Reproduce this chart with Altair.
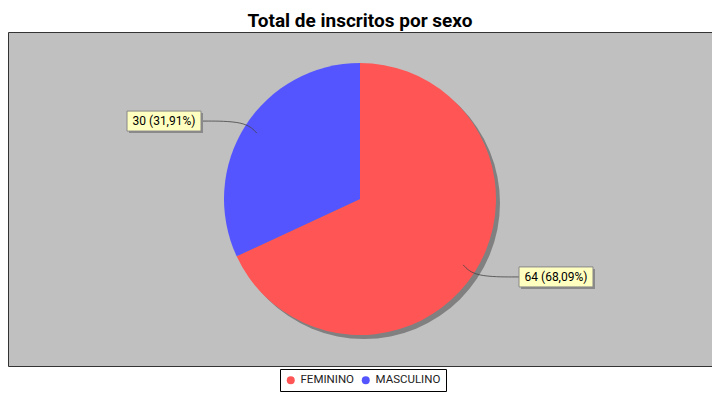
import math
import pandas as pd
import altair as alt

# ---- data ----
categories = ["FEMININO", "MASCULINO"]
values = [64, 30]
colors = ["#FF5555", "#5555FF"]
title_text = "Total de inscritos por sexo"

# ---- layout constants ----
W, H = 704, 334
CX, CY, R = 352, 167, 136
BW, BH = 74, 20

total = sum(values)
pie_df = pd.DataFrame({"cat": categories, "value": values, "idx": list(range(len(values)))})

line_rows, box_rows = [], []
cum = 0
for i, (c, v) in enumerate(zip(categories, values)):
    mid = (cum + v / 2) / total
    cum += v
    a = 2 * math.pi * mid
    dx, dy = math.sin(a), -math.cos(a)
    side = 1 if dx >= 0 else -1
    ax = CX + side * 159
    ay = CY + 1.065 * R * dy
    ex, ey = CX + 0.9 * R * dx, CY + 0.9 * R * dy
    kx = CX + R * dx
    line_rows += [
        {"slice": c, "step": 0, "x": ax, "y": ay},
        {"slice": c, "step": 1, "x": kx, "y": ay},
        {"slice": c, "step": 2, "x": ex, "y": ey},
    ]
    pct = v / total * 100
    label = f"{v} ({pct:.2f}%)".replace(".", ",")
    x1 = ax if side > 0 else ax - BW
    box_rows.append({
        "label": label, "x1": x1, "x2": x1 + BW,
        "y1": ay - BH / 2, "y2": ay + BH / 2,
        "sx1": x1 + 2, "sx2": x1 + BW + 2, "sy1": ay - BH / 2 + 2, "sy2": ay + BH / 2 + 2,
        "tx": x1 + BW / 2, "ty": ay,
    })

lines_df = pd.DataFrame(line_rows)
boxes_df = pd.DataFrame(box_rows)
shadow_df = pd.DataFrame({"s": [1]})

shadow = alt.Chart(shadow_df).mark_arc(
    radius=R, theta=0, theta2=2 * math.pi, color="#808080"
).encode(x=alt.value(CX + 4), y=alt.value(CY + 4))

pie = alt.Chart(pie_df).mark_arc(radius=R).encode(
    theta=alt.Theta("value:Q", stack=True),
    order=alt.Order("idx:Q"),
    color=alt.Color(
        "cat:N",
        scale=alt.Scale(domain=categories, range=colors),
        legend=alt.Legend(
            title=None, orient="none", legendX=272, legendY=337,
            direction="horizontal", symbolType="circle", symbolSize=64,
            symbolStrokeWidth=0, labelFont="Roboto", labelFontSize=11.5,
            labelColor="#222222", padding=5, columnPadding=5, labelOffset=4,
            strokeColor="black", fillColor="white",
        ),
    ),
    x=alt.value(CX), y=alt.value(CY),
)

leaders = alt.Chart(lines_df).mark_line(
    interpolate="basis", color="#444444", strokeWidth=0.8
).encode(
    x=alt.X("x:Q", scale=None), y=alt.Y("y:Q", scale=None),
    detail="slice:N", order="step:Q",
)

box_shadow = alt.Chart(boxes_df).mark_rect(color="#8a8a8a").encode(
    x=alt.X("sx1:Q", scale=None), x2="sx2:Q",
    y=alt.Y("sy1:Q", scale=None), y2="sy2:Q",
)

boxes = alt.Chart(boxes_df).mark_rect(fill="#FFFFC0", stroke="#888888", strokeWidth=1).encode(
    x=alt.X("x1:Q", scale=None), x2="x2:Q",
    y=alt.Y("y1:Q", scale=None), y2="y2:Q",
)

texts = alt.Chart(boxes_df).mark_text(
    font="Roboto", fontSize=12, color="black", align="center", baseline="middle"
).encode(
    x=alt.X("tx:Q", scale=None), y=alt.Y("ty:Q", scale=None), text="label:N",
)

chart = alt.layer(shadow, pie, leaders, box_shadow, boxes, texts).properties(
    width=W, height=H,
    title=alt.Title(title_text, font="Roboto", fontSize=19, fontWeight="bold",
                    color="black", anchor="middle", offset=1),
    autosize=alt.AutoSizeParams(type="none"),
    padding={"left": 0, "top": 24, "right": 0, "bottom": 26},
).configure_view(
    fill="#C0C0C0", stroke="#333333", strokeWidth=1
)

chart.save("out.html", embed_options={"renderer": "svg", "actions": False})
